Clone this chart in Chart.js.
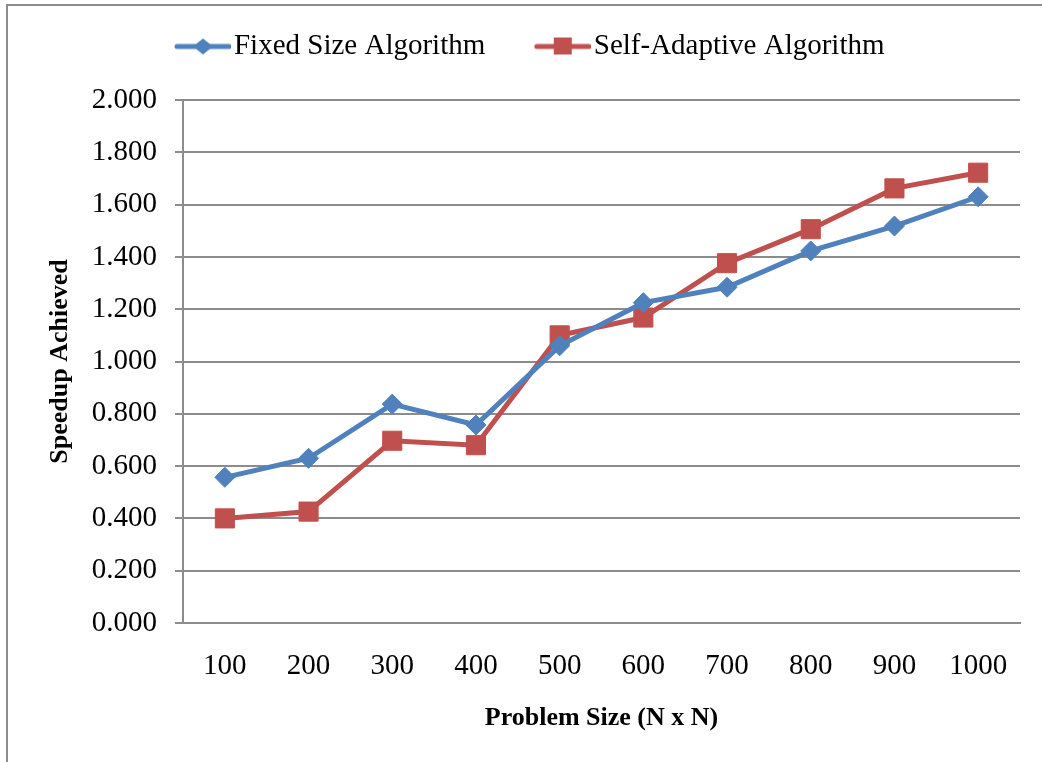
<!DOCTYPE html>
<html>
<head>
<meta charset="utf-8">
<title>Speedup Achieved</title>
<script src="https://cdn.jsdelivr.net/npm/chart.js@4.4.1/dist/chart.umd.min.js"></script>
<style>
    html, body { margin: 0; padding: 0; background: #fff; }
    #wrap { position: relative; width: 1042px; height: 762px; overflow: hidden; }
    #frame {
        position: absolute; left: 6px; top: 4px; right: -10px; bottom: -10px;
        border-left: 2px solid #8c8c8c; border-top: 2px solid #8c8c8c;
    }
    #myChart { position: absolute; left: 0; top: 0; }
</style>
</head>
<body>
<div id="wrap">
    <div id="frame"></div>
    <canvas id="myChart" width="1042" height="762"></canvas>
</div>
<script>
// Data
const problemSizes = ['100', '200', '300', '400', '500', '600', '700', '800', '900', '1000'];
const fixedSize = [0.557, 0.630, 0.837, 0.757, 1.060, 1.225, 1.284, 1.423, 1.518, 1.630];
const selfAdaptive = [0.400, 0.426, 0.697, 0.680, 1.100, 1.168, 1.376, 1.506, 1.662, 1.722];
const seriesNames = ['Fixed Size Algorithm', 'Self-Adaptive Algorithm'];

const blue = '#4F81BD';
const red = '#C0504D';
const gridGrey = '#8c8c8c';
const serif = "'Liberation Serif', 'Times New Roman', serif";

// Legend icons: a short line with the series marker in the middle
function legendIcon(color, marker) {
    const c = document.createElement('canvas');
    c.width = 107;
    c.height = 24;
    const g = c.getContext('2d');
    const x0 = 107 - 56, cy = 12;
    g.strokeStyle = color;
    g.lineWidth = 5;
    g.lineCap = 'round';
    g.beginPath();
    g.moveTo(x0 + 2, cy);
    g.lineTo(x0 + 54, cy);
    g.stroke();
    g.fillStyle = color;
    g.beginPath();
    if (marker === 'diamond') {
        g.moveTo(x0 + 28, cy - 8);
        g.lineTo(x0 + 38, cy);
        g.lineTo(x0 + 28, cy + 8);
        g.lineTo(x0 + 18, cy);
        g.closePath();
    } else {
        g.rect(x0 + 19, cy - 9, 18, 17);
    }
    g.fill();
    return c;
}
const legendIcons = [legendIcon(blue, 'diamond'), legendIcon(red, 'square')];

// Keep the plot top fixed under the legend
const legendHeight = {
    id: 'legendHeight',
    afterInit(chart) {
        const fit = chart.legend.fit;
        chart.legend.fit = function () {
            fit.call(this);
            this.height = 78;
        };
    }
};

const ctx = document.getElementById('myChart').getContext('2d');
new Chart(ctx, {
    type: 'line',
    data: {
        labels: problemSizes,
        datasets: [
            {
                label: seriesNames[0],
                data: fixedSize,
                borderColor: blue,
                backgroundColor: blue,
                borderWidth: 5,
                pointStyle: 'rectRot',
                pointRadius: 10,
                pointBorderWidth: 1,
                tension: 0,
                fill: false
            },
            {
                label: seriesNames[1],
                data: selfAdaptive,
                borderColor: red,
                backgroundColor: red,
                borderWidth: 5,
                pointStyle: 'rect',
                pointRadius: 13.5,
                pointBorderWidth: 1,
                tension: 0,
                fill: false
            }
        ]
    },
    options: {
        responsive: false,
        animation: false,
        layout: {
            padding: { left: 0, right: 22, top: 22, bottom: 0 }
        },
        scales: {
            x: {
                offset: true,
                grid: { display: false, drawTicks: false, tickLength: 0 },
                border: { display: true, color: gridGrey, width: 2 },
                ticks: {
                    color: '#000',
                    padding: 26,
                    maxRotation: 0,
                    autoSkip: false,
                    font: { family: serif, size: 29 }
                },
                title: {
                    display: true,
                    text: 'Problem Size (N x N)',
                    color: '#000',
                    padding: { top: 0, bottom: 28 },
                    font: { family: serif, size: 26, weight: 'bold' }
                },
                afterFit(scale) { scale.height = 139; }
            },
            y: {
                min: 0,
                max: 2,
                grid: { color: gridGrey, lineWidth: 2, tickLength: 8, drawTicks: true },
                border: { display: true, color: gridGrey, width: 2 },
                ticks: {
                    stepSize: 0.2,
                    color: '#000',
                    padding: 18,
                    font: { family: serif, size: 29 },
                    callback: v => Number(v).toFixed(3)
                },
                title: {
                    display: true,
                    text: 'Speedup Achieved',
                    color: '#000',
                    padding: { top: 45, bottom: 0 },
                    font: { family: serif, size: 26, weight: 'bold' }
                },
                afterFit(scale) { scale.width = 183; }
            }
        },
        plugins: {
            legend: {
                display: true,
                position: 'top',
                labels: {
                    usePointStyle: true,
                    pointStyleWidth: 84,
                    boxHeight: 20,
                    padding: 10,
                    color: '#000',
                    font: { family: serif, size: 29 },
                    generateLabels: chart => chart.data.datasets.map((ds, i) => ({
                        text: ds.label,
                        pointStyle: legendIcons[i],
                        fillStyle: 'transparent',
                        strokeStyle: 'transparent',
                        lineWidth: 0,
                        fontColor: '#000',
                        hidden: false,
                        datasetIndex: i
                    }))
                }
            },
            tooltip: { enabled: false }
        }
    },
    plugins: [legendHeight]
});
</script>
</body>
</html>
